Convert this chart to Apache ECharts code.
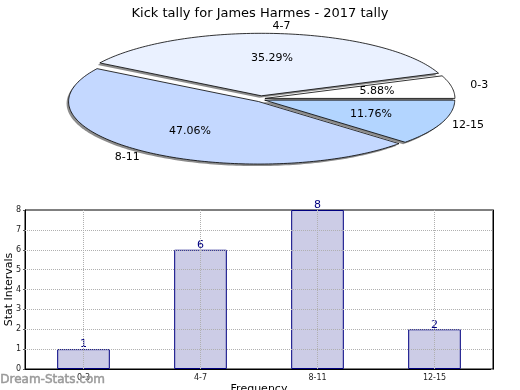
<!DOCTYPE html>
<html>
<head>
<meta charset="utf-8">
<script src="https://cdn.jsdelivr.net/npm/echarts@6/dist/echarts.min.js"></script>
<style>
html,body{margin:0;padding:0;background:#fff;}
#chart{width:520px;height:390px;}
</style>
</head>
<body>
<div id="chart"></div>
<script>
const titleText = 'Kick tally for James Harmes - 2017 tally';
const categories = ['0-3', '4-7', '8-11', '12-15'];
const counts = [1, 6, 8, 2];
const pieColors = ['#ffffff', '#eaf1ff', '#c4d8ff', '#b3d5ff'];
const gridLineValues = [1, 2, 3, 4, 5, 6, 7];

const total = counts.reduce((a, b) => a + b, 0);
const cum = [];
counts.reduce((acc, v, i) => { cum[i] = acc; return acc + v; }, 0);

const PIE = { cx: 261, cy: 99, rx: 190, ry: 62.5, explode: 4, labelRx: 222, labelRy: 73 };
const FONT = 'DejaVu Sans';

function renderSlice(params, api) {
  const i = params.dataIndex;
  const v = api.value(0);
  const a0 = cum[i] / total * Math.PI * 2;
  const a1 = (cum[i] + v) / total * Math.PI * 2;
  const mid = (a0 + a1) / 2;
  const ox = PIE.explode * Math.cos(mid);
  const oy = -PIE.explode * 0.8 * Math.sin(mid);
  const cx = PIE.cx + ox, cy = PIE.cy + oy;
  const pts = [[cx, cy]];
  const steps = Math.max(8, Math.ceil((a1 - a0) / 0.02));
  for (let s = 0; s <= steps; s++) {
    const t = a0 + (a1 - a0) * s / steps;
    pts.push([cx + PIE.rx * Math.cos(t), cy - PIE.ry * Math.sin(t)]);
  }
  const shadowPts = pts.map(p => [p[0] - 2, p[1] + 2]);
  const pct = (v / total * 100).toFixed(2) + '%';
  return {
    type: 'group',
    children: [
      { type: 'polygon', z2: 1, shape: { points: shadowPts }, style: { fill: '#8c8c8c', stroke: null } },
      { type: 'polygon', z2: 10, shape: { points: pts }, style: { fill: pieColors[i], stroke: '#000', lineWidth: 0.8 } },
      { type: 'text', z2: 20, x: cx + PIE.rx * 0.6 * Math.cos(mid), y: cy - PIE.ry * 0.6 * Math.sin(mid),
        style: { text: pct, fill: '#000', font: '11px ' + FONT, align: 'center', verticalAlign: 'middle' } },
      { type: 'text', z2: 20, x: PIE.cx + PIE.labelRx * Math.cos(mid), y: PIE.cy - PIE.labelRy * Math.sin(mid),
        style: { text: categories[i], fill: '#000', font: '11px ' + FONT, align: 'center', verticalAlign: 'middle' } }
    ]
  };
}

const chart = echarts.init(document.getElementById('chart'), null, { renderer: 'canvas' });
chart.setOption({
  animation: false,
  backgroundColor: '#fff',
  textStyle: { fontFamily: FONT },
  title: {
    text: titleText, left: 'center', top: 2,
    textStyle: { fontSize: 13, fontWeight: 'normal', color: '#000', fontFamily: FONT }
  },
  graphic: [{
    type: 'text', left: 0, top: 374, z: 100,
    style: { text: 'Dream-Stats.com', fill: '#9a9a9a', stroke: '#9a9a9a', lineWidth: 0.5, font: '12px ' + FONT }
  }],
  grid: { left: 25, right: 27, top: 210, bottom: 21, outerBoundsMode: 'none', containLabel: false,
    show: true, borderColor: '#000', borderWidth: 1, backgroundColor: 'transparent' },
  xAxis: {
    type: 'category', data: categories,
    axisLine: { lineStyle: { color: '#000' } },
    axisTick: { show: true, alignWithLabel: true, inside: true, length: 3, lineStyle: { color: '#888' } },
    axisLabel: { fontSize: 8, color: '#222', margin: 5, fontFamily: FONT },
    splitLine: { show: false },
    name: 'Frequency', nameLocation: 'middle', nameGap: 15, nameMoveOverlap: false,
    nameTextStyle: { fontSize: 11, color: '#000', fontFamily: FONT }
  },
  yAxis: [{
    type: 'value', min: 0, max: 8, interval: 1,
    axisLine: { show: true, lineStyle: { color: '#000' } },
    axisTick: { show: true, length: 2, lineStyle: { color: '#555' } },
    axisLabel: { fontSize: 8, color: '#222', margin: 4, fontFamily: FONT },
    splitLine: { show: false },
    name: 'Stat Intervals', nameLocation: 'middle', nameGap: 10, nameMoveOverlap: false,
    nameTextStyle: { fontSize: 11, color: '#000', fontFamily: FONT }
  }, {
    type: 'value', min: 0, max: 8, interval: 1, position: 'right',
    axisLine: { show: true, lineStyle: { color: '#000' } },
    axisTick: { show: true, inside: true, length: 2, lineStyle: { color: '#888' } },
    axisLabel: { show: false },
    splitLine: { show: false }
  }],
  series: [{
    type: 'custom', coordinateSystem: 'none', silent: true,
    data: counts, renderItem: renderSlice
  }, {
    type: 'bar', data: counts, barWidth: '45%',
    itemStyle: { color: '#ccccE6', borderColor: '#000080', borderWidth: 1 },
    label: { show: true, position: 'top', distance: -1, color: '#000080', fontSize: 11, fontFamily: FONT },
    markLine: {
      silent: true, symbol: ['none', 'none'], label: { show: false },
      lineStyle: { type: 'dotted', color: '#b0b0b0', width: 1 },
      emphasis: { disabled: true },
      data: gridLineValues.map(v => ({ yAxis: v })).concat(categories.map(c => ({ xAxis: c })))
    }
  }]
});
</script>
</body>
</html>
